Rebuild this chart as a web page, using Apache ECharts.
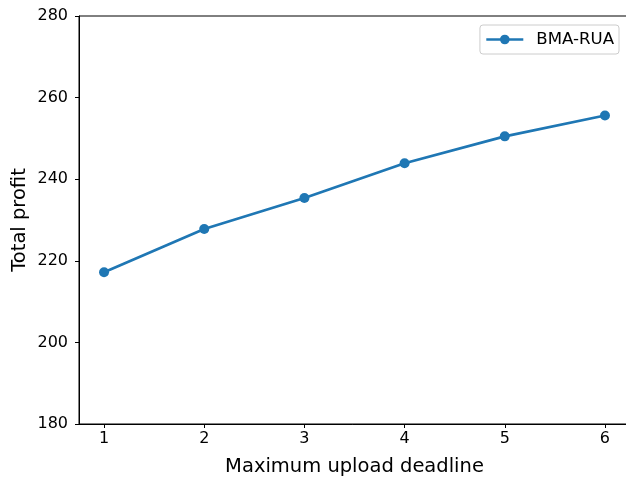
<!DOCTYPE html>
<html>
<head>
<meta charset="utf-8">
<script src="https://cdn.jsdelivr.net/npm/echarts@6/dist/echarts.min.js"></script>
<style>
html,body{margin:0;padding:0;background:#fff;}
#chart{width:626px;height:478px;}
</style>
</head>
<body>
<div id="chart"></div>
<script>
const deadlines = [1, 2, 3, 4, 5, 6];
const profit = [217.2, 227.8, 235.4, 243.9, 250.5, 255.6];
const seriesName = 'BMA-RUA';
const xTicks = [1, 2, 3, 4, 5, 6];
const yTicks = [180, 200, 220, 240, 260, 280];
const xLabel = 'Maximum upload deadline';
const yLabel = 'Total profit';

const font = 'DejaVu Sans';
const chart = echarts.init(document.getElementById('chart'), null, {renderer: 'canvas'});
chart.setOption({
  animation: false,
  backgroundColor: '#fff',
  grid: {left: 79, top: 16, width: 551, height: 408, outerBoundsMode: 'none', containLabel: false,
         show: true, borderColor: '#000', borderWidth: 1, backgroundColor: 'transparent'},
  legend: {
    right: 7, top: 25,
    data: [seriesName],
    itemWidth: 37, itemHeight: 12,
    padding: [6, 5, 6, 5],
    backgroundColor: '#fff',
    borderColor: '#cccccc', borderWidth: 1, borderRadius: 3,
    lineStyle: {width: 2.7},
    textStyle: {fontFamily: font, fontSize: 16.6, color: '#000', padding: [0, 0, 0, 8]}
  },
  xAxis: {
    type: 'value', min: 0.75, max: 6.25,
    name: xLabel, nameLocation: 'middle', nameGap: 33, nameMoveOverlap: false,
    nameTextStyle: {fontFamily: font, fontSize: 19.5, color: '#000'},
    axisLine: {show: true, lineStyle: {color: '#000', width: 1}},
    axisTick: {show: true, inside: false, length: 4, customValues: xTicks, lineStyle: {color: '#000'}},
    axisLabel: {customValues: xTicks, fontFamily: font, fontSize: 16, color: '#000', margin: 7},
    splitLine: {show: false}
  },
  yAxis: {
    type: 'value', min: yTicks[0], max: yTicks[yTicks.length - 1], interval: 20,
    name: yLabel, nameLocation: 'middle', nameGap: 49, nameRotate: 90, nameMoveOverlap: false,
    nameTextStyle: {fontFamily: font, fontSize: 19.5, color: '#000'},
    axisLine: {show: true, lineStyle: {color: '#000', width: 1}},
    axisTick: {show: true, inside: false, length: 4, lineStyle: {color: '#000'}},
    axisLabel: {fontFamily: font, fontSize: 16, color: '#000', margin: 11},
    splitLine: {show: false}
  },
  series: [{
    name: seriesName,
    type: 'line',
    data: deadlines.map((d, i) => [d, profit[i]]),
    symbol: 'circle', symbolSize: 10,
    lineStyle: {color: '#1f77b4', width: 2.7},
    itemStyle: {color: '#1f77b4'}
  }]
});
</script>
</body>
</html>
